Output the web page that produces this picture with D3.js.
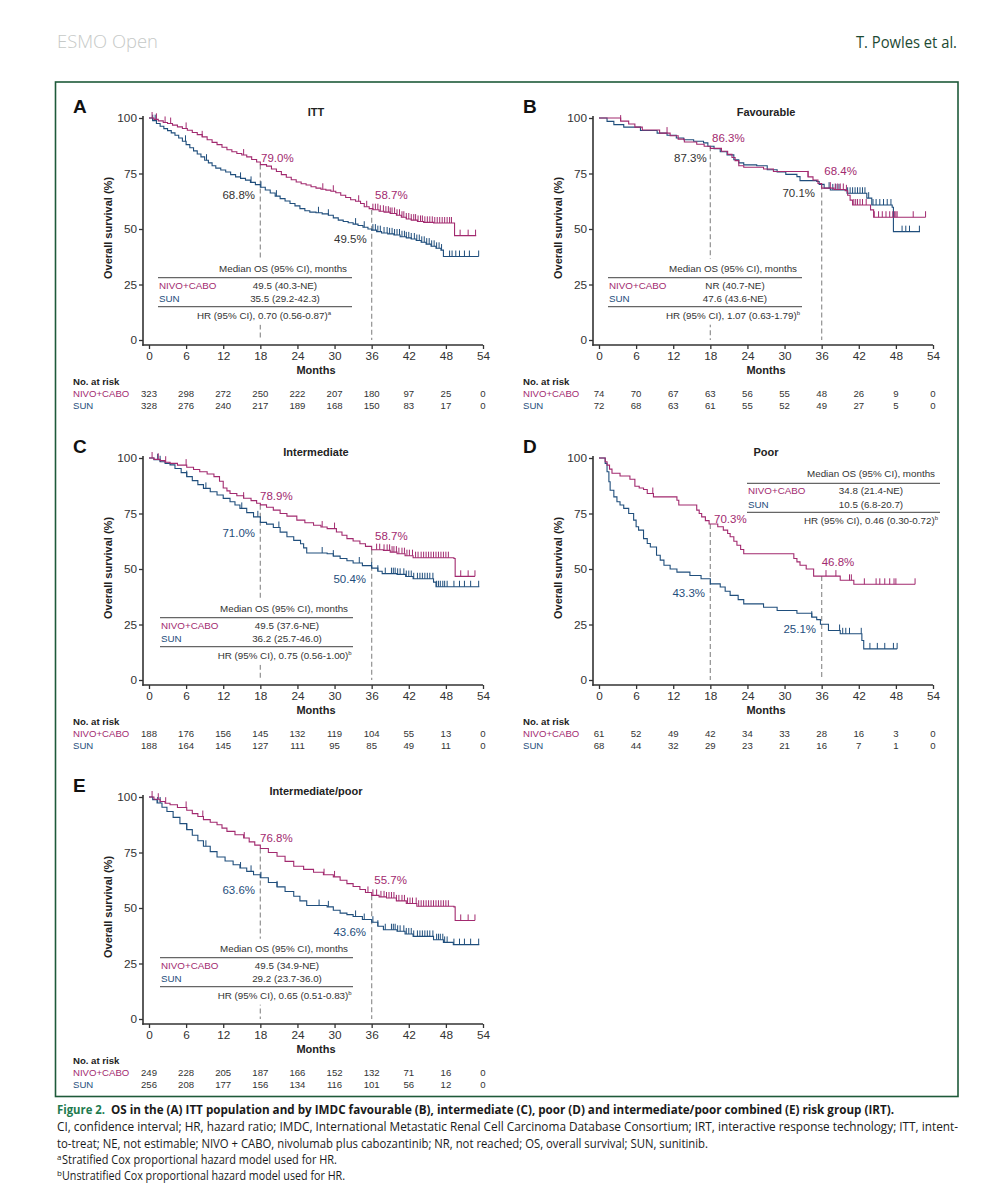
<!DOCTYPE html>
<html><head><meta charset="utf-8">
<script src="https://cdn.jsdelivr.net/npm/d3@7"></script>
<style>body{margin:0;background:#fff} svg text{font-family:"Liberation Sans",Arial,sans-serif}</style>
</head><body><svg id="c" width="1000" height="1200"></svg>
<script>
// ---------- DATA ----------
const months = [0,6,12,18,24,30,36,42,48,54];
const yTicks = [0,25,50,75,100];
const panelIds = ["A","B","C","D","E"];
const panelTitles = ["ITT","Favourable","Intermediate","Poor","Intermediate/poor"];
const armNames = ["NIVO+CABO","SUN"];

// Kaplan-Meier steps [month, OS %]
const nivoA = [[0,100],[0.8,99.4],[1.5,98.7],[2.3,98.0],[3.0,97.5],[3.8,96.8],[4.6,96.0],[5.4,95.3],[6.2,94.5],[7.0,93.5],[7.8,92.5],[8.6,91.5],[9.4,90.2],[10.2,89.0],[11.0,88.0],[11.8,86.8],[12.6,85.7],[13.4,84.8],[14.2,84.0],[15.0,83.3],[15.8,82.5],[16.6,81.3],[17.4,80.2],[18.0,79.0],[19.0,78.3],[19.8,77.0],[20.6,75.9],[21.4,74.5],[22.2,73.3],[23.0,72.2],[23.8,71.2],[24.6,70.4],[25.4,69.8],[26.2,69.0],[27.0,68.4],[27.8,67.9],[28.6,67.5],[29.4,67.0],[30.2,66.3],[31.0,65.2],[31.8,64.2],[32.6,63.2],[33.4,62.5],[34.2,61.5],[34.8,60.0],[35.6,59.2],[36.2,58.7],[37.2,58.0],[38.0,57.6],[39.0,57.0],[40.0,56.2],[40.8,55.3],[41.6,54.5],[42.4,54.0],[43.4,53.4],[44.4,53.0],[46.0,52.7],[49.4,47.0],[52.9,47.0]];
const sunA = [[0,100],[0.6,98.8],[1.2,97.5],[1.8,96.3],[2.4,95.2],[3.0,94.3],[3.6,93.3],[4.2,92.2],[4.8,91.0],[5.4,89.5],[6.0,88.0],[6.6,86.6],[7.2,85.2],[7.8,83.8],[8.4,82.5],[9.0,81.0],[9.6,79.8],[10.2,78.5],[10.8,77.4],[11.6,76.6],[12.4,75.7],[13.2,74.5],[14.0,73.5],[14.8,72.8],[15.6,72.0],[16.4,71.0],[17.2,70.0],[18.0,68.8],[18.8,67.6],[19.6,66.2],[20.4,64.8],[21.2,63.7],[22.0,62.6],[22.8,61.5],[23.6,60.4],[24.4,59.2],[25.2,58.2],[26.0,57.6],[27.0,57.3],[28.0,56.8],[29.0,56.2],[29.8,55.0],[30.6,54.0],[31.4,53.4],[32.2,52.8],[33.0,52.2],[33.8,51.6],[34.6,50.8],[35.4,50.0],[36.0,49.5],[36.8,48.8],[37.6,48.2],[38.6,47.8],[39.6,47.3],[40.6,46.5],[41.6,46.0],[42.4,45.5],[43.2,44.8],[44.0,44.0],[44.8,43.2],[45.6,42.2],[46.4,41.3],[47.2,40.5],[47.6,37.6],[53.3,37.6]];
const nivoB = [[0,100],[3.5,98.6],[4.8,97.3],[5.8,95.9],[7.0,94.6],[9.8,93.2],[11.5,92.0],[12.8,90.5],[13.8,89.2],[15.8,88.2],[17.0,87.3],[18.0,86.3],[19.8,85.0],[20.8,83.6],[21.5,82.2],[22.0,80.8],[22.6,78.5],[23.4,77.8],[26.6,77.0],[28.2,75.9],[33.0,75.9],[33.8,73.5],[34.6,72.1],[35.4,70.5],[36.0,68.4],[38.0,67.8],[39.8,67.2],[40.2,65.2],[40.6,63.0],[41.0,60.8],[43.9,58.6],[44.4,55.3],[52.8,55.3]];
const sunB = [[0,100],[1.3,98.5],[2.4,97.0],[4.0,95.9],[6.7,94.4],[9.4,93.2],[11.0,92.2],[12.5,91.0],[13.7,90.2],[15.3,89.5],[16.9,88.8],[17.6,87.3],[18.6,86.2],[19.6,84.8],[20.7,83.4],[21.8,81.2],[22.6,79.8],[23.4,78.9],[25.5,78.5],[27.2,76.7],[28.8,75.7],[30.2,74.6],[32.0,73.6],[32.5,71.8],[35.2,71.4],[35.6,70.1],[36.4,68.4],[37.4,67.6],[40.1,66.1],[43.3,63.9],[44.1,60.8],[47.4,59.8],[47.6,48.8],[51.9,48.8]];
const nivoC = [[0,100],[0.8,99.4],[1.8,98.8],[2.6,98.1],[3.4,97.6],[4.6,96.8],[6.1,95.8],[7.2,94.8],[8.2,93.8],[9.4,92.8],[10.5,91.6],[11.4,89.5],[12.0,86.5],[12.6,85.2],[13.1,84.0],[14.2,83.0],[15.3,81.9],[16.5,80.8],[17.4,79.6],[18.0,78.9],[19.0,77.8],[20.1,76.5],[21.2,75.0],[22.3,73.8],[23.9,72.0],[25.2,70.8],[26.6,69.7],[27.8,68.9],[28.8,68.2],[30.3,66.7],[31.2,65.2],[32.0,63.7],[33.0,62.6],[34.1,61.4],[35.0,60.2],[36.0,58.7],[37.9,58.4],[39.0,57.6],[40.1,56.9],[41.4,56.0],[42.7,55.1],[49.3,54.7],[49.5,46.7],[52.7,46.7]];
const sunC = [[0,100],[0.8,99.2],[1.8,98.3],[2.6,97.6],[3.4,96.9],[4.2,95.3],[5.2,93.4],[6.1,91.6],[7.0,89.8],[7.9,88.0],[8.8,86.3],[9.9,84.8],[11.0,83.3],[12.0,81.8],[13.1,80.3],[13.9,78.8],[14.7,77.3],[15.8,75.4],[16.9,73.5],[18.0,71.0],[19.0,70.2],[20.1,68.7],[21.2,66.6],[22.3,64.5],[23.4,62.9],[24.5,61.4],[25.0,59.5],[25.5,57.2],[28.8,56.9],[29.8,55.8],[30.9,54.7],[32.0,53.7],[33.0,52.7],[34.5,51.5],[36.0,50.4],[37.0,49.0],[37.7,47.9],[40.1,47.6],[41.5,46.6],[42.7,45.6],[46.0,44.1],[46.4,42.0],[53.4,42.0]];
const nivoD = [[0,100],[1.0,98.3],[1.3,96.8],[1.7,95.0],[2.1,93.1],[3.4,91.9],[5.0,90.4],[5.8,87.3],[6.5,86.5],[7.2,85.8],[7.8,84.0],[8.8,82.5],[12.6,81.0],[12.9,78.8],[15.8,76.5],[16.2,75.0],[16.6,73.5],[17.2,71.8],[17.8,70.3],[19.2,69.0],[20.1,67.5],[20.8,66.0],[21.2,64.5],[21.8,62.5],[22.3,60.7],[22.9,58.8],[23.4,56.9],[31.5,54.7],[32.0,53.2],[32.5,51.7],[33.5,50.0],[34.7,46.8],[39.0,44.9],[41.2,43.1],[51.1,43.1]];
const sunD = [[0,100],[1.0,97.6],[1.3,93.8],[1.6,89.3],[1.8,85.5],[2.4,82.5],[2.9,80.3],[3.4,78.8],[4.0,77.3],[4.8,75.0],[5.6,72.0],[6.0,69.0],[6.4,67.5],[7.2,63.7],[7.8,61.5],[8.3,59.9],[9.3,56.2],[9.9,54.0],[10.5,51.7],[11.5,50.0],[12.6,48.6],[14.7,47.1],[16.5,45.6],[18.0,43.3],[19.6,41.9],[20.4,40.0],[21.2,38.1],[22.5,36.2],[23.4,34.3],[26.6,32.8],[28.8,31.3],[32.0,30.1],[34.4,28.3],[35.2,27.2],[35.8,25.1],[37.1,22.3],[39.0,20.8],[42.5,17.8],[42.8,14.0],[48.2,14.0]];
const nivoE = [[0,100],[0.8,99.0],[1.8,98.0],[2.6,97.2],[3.4,96.5],[4.6,95.3],[6.1,94.0],[7.0,92.5],[7.9,91.2],[8.8,89.8],[9.9,88.6],[11.0,87.5],[11.8,86.0],[12.6,84.5],[13.9,83.0],[15.3,81.5],[16.2,79.8],[17.1,78.3],[18.0,76.8],[19.3,75.0],[20.7,73.3],[22.0,71.0],[23.4,68.8],[25.0,67.4],[26.6,66.1],[28.2,65.0],[29.8,64.0],[30.9,62.5],[32.0,61.0],[33.0,59.7],[34.1,58.3],[35.0,57.0],[36.0,55.7],[37.2,55.0],[38.4,54.5],[40.0,53.2],[41.6,52.0],[43.3,50.8],[49.3,50.5],[49.5,44.4],[52.7,44.4]];
const sunE = [[0,100],[0.6,98.8],[1.3,97.3],[2.1,95.4],[2.9,93.5],[3.9,90.8],[5.0,88.0],[6.1,85.3],[7.0,82.8],[7.9,80.3],[8.8,77.8],[9.9,75.4],[11.0,73.0],[12.3,71.2],[13.6,69.5],[14.7,68.0],[15.8,66.5],[16.9,65.0],[18.0,63.6],[19.3,61.5],[20.7,59.5],[22.0,57.4],[23.4,55.3],[24.4,53.2],[25.5,51.1],[28.8,50.5],[29.8,49.0],[30.9,47.7],[32.0,47.0],[33.0,46.2],[34.5,44.8],[36.0,43.6],[37.0,41.8],[37.9,40.2],[40.1,39.5],[41.4,38.3],[42.7,37.2],[46.0,35.7],[47.6,34.5],[49.2,33.5],[53.4,33.5]];

// Censoring times (months)
const nivoCensA = [0.5,1.2,2.6,3.5,6,8.6,15.3,28.1,29.8,33.9,35.2,36.2,36.6,37.0,37.4,37.9,38.3,38.7,39.0,39.3,39.7,40.1,40.5,40.9,41.2,41.6,42.0,42.4,42.8,43.1,43.5,43.9,44.2,44.6,45.0,45.4,45.8,46.2,46.6,47.0,47.4,47.8,48.2,48.6,48.9,50.3,51.6,52.8];
const sunCensA = [0.6,1.0,5.9,9.3,14.8,16.5,18.1,20.6,27.4,29.0,33.4,34.8,36.2,36.6,37.0,37.4,38.0,38.5,38.9,39.3,39.7,40.1,40.5,40.9,41.3,41.6,42.0,42.4,42.9,43.3,43.7,44.1,44.5,44.9,45.3,45.7,46.1,46.5,46.9,47.3,48.6,49.0,49.6,50.2,51.0,51.8,53.3];
const nivoCensB = [3.5,11,33.8,37.4,38.2,38.6,39.0,39.5,40.0,41.2,41.5,41.8,42.2,42.6,43.2,44.5,45.2,45.8,46.4,47.0,47.5,47.8,48.0,48.2,50.8,52.8];
const sunCensB = [37.2,37.8,38.3,38.8,40.2,40.6,41.0,41.4,41.8,42.2,42.6,43.0,43.6,44.3,44.8,45.4,46.0,46.6,47.2,49.0,49.6,50.2,51.8];
const nivoCensC = [0.5,1.5,2.7,6,15.3,28,30,36.8,37.3,38,38.5,38.9,39.3,39.6,40.0,40.4,40.9,41.3,41.7,42.1,42.6,43.1,43.5,44,44.4,44.8,45.2,45.6,46.0,46.4,46.8,47.2,47.6,48.0,48.4,50.4,51.6,52.7];
const sunCensC = [1.4,1.8,6.1,9.2,15,17.6,21,28,29.8,34,36,37,38.2,39.2,39.5,39.8,40.2,40.6,41.2,41.6,42,42.4,42.8,43.4,43.8,44.2,44.6,45.0,45.4,45.9,46.5,46.8,47.1,47.5,47.8,48.2,49.3,50.2,51,52,53.3];
const nivoCensD = [8.7,36.7,38.3,40.5,40.8,42.9,44.8,45.4,46.2,47.0,47.7,48.0,51.1];
const sunCensD = [34.4,38.9,39.4,39.9,40.5,42.4,43.8,45.0,46.2,47.6,48.2];
const nivoCensE = [0.5,1.5,2.7,6,8.7,15.4,28.3,30,35.4,36.2,36.8,37.5,38.0,38.4,38.8,39.2,39.6,40.0,40.4,40.9,41.3,41.8,42.2,42.6,43.2,43.6,44.0,44.4,44.8,45.2,45.6,46.0,46.4,46.8,47.2,47.6,48.0,48.4,50.4,51.6,52.7];
const sunCensE = [1.4,1.8,6.1,9.2,14.8,16.5,18.1,20.7,27.5,29,33.4,34.8,36.2,37,38.2,39.2,39.5,39.8,40.2,40.6,41.2,41.6,42.0,42.4,42.8,43.4,43.8,44.2,44.6,45.0,45.4,45.9,46.5,46.8,47.1,47.5,47.8,48.2,49.3,50.2,51,52,53.3];

// Numbers at risk
const riskNivoA = [323,298,272,250,222,207,180,97,25,0];
const riskSunA  = [328,276,240,217,189,168,150,83,17,0];
const riskNivoB = [74,70,67,63,56,55,48,26,9,0];
const riskSunB  = [72,68,63,61,55,52,49,27,5,0];
const riskNivoC = [188,176,156,145,132,119,104,55,13,0];
const riskSunC  = [188,164,145,127,111,95,85,49,11,0];
const riskNivoD = [61,52,49,42,34,33,28,16,3,0];
const riskSunD  = [68,44,32,29,23,21,16,7,1,0];
const riskNivoE = [249,228,205,187,166,152,132,71,16,0];
const riskSunE  = [256,208,177,156,134,116,101,56,12,0];

// Median OS, HR
const medianNivo = ["49.5 (40.3-NE)","NR (40.7-NE)","49.5 (37.6-NE)","34.8 (21.4-NE)","49.5 (34.9-NE)"];
const medianSun  = ["35.5 (29.2-42.3)","47.6 (43.6-NE)","36.2 (25.7-46.0)","10.5 (6.8-20.7)","29.2 (23.7-36.0)"];
const hrText = ["0.70 (0.56-0.87)","1.07 (0.63-1.79)","0.75 (0.56-1.00)","0.46 (0.30-0.72)","0.65 (0.51-0.83)"];
const hrNote = ["a","b","b","b","b"];

// Landmark OS at 18 and 36 months
const os18Nivo = [79.0,86.3,78.9,70.3,76.8];
const os18Sun  = [68.8,87.3,71.0,43.3,63.6];
const os36Nivo = [58.7,68.4,58.7,46.8,55.7];
const os36Sun  = [49.5,70.1,50.4,25.1,43.6];

// ---------- STYLE / LAYOUT ----------
const MAG = "#a22a6f", NAVY = "#1f4e7c", TXT = "#333";
const layout = [
 {ox:0,  oy:0,   t:{x1:158,x2:352,valX:285,top:271.7,hrEnd:331,white:true}, lab:[[261,162],[255,199],[375,199],[366.7,243]], sunCol:TXT},
 {ox:450,oy:0,   t:{x1:158,x2:352,valX:285,top:271.7,hrEnd:350,white:true}, lab:[[262,141.7],[256.7,162.3],[374.3,175],[365,197.3]], sunCol:TXT},
 {ox:0,  oy:340, t:{x1:160,x2:353,valX:287,top:271.7,hrEnd:351.7,white:true}, lab:[[260,160],[255,197.3],[375,200],[366,243.3]], sunCol:NAVY},
 {ox:450,oy:340, t:{x1:297,x2:490,valX:421,top:137.3,hrEnd:488,white:false}, lab:[[264,183.3],[255,256.7],[371.7,226.3],[366,293]], sunCol:NAVY},
 {ox:0,  oy:679, t:{x1:160,x2:353,valX:287,top:272.7,hrEnd:351.7,white:true}, lab:[[260,162.7],[255,215],[374.3,205],[366,256.7]], sunCol:NAVY}
];
const nivoSeries = [nivoA,nivoB,nivoC,nivoD,nivoE];
const sunSeries  = [sunA,sunB,sunC,sunD,sunE];
const nivoCens = [nivoCensA,nivoCensB,nivoCensC,nivoCensD,nivoCensE];
const sunCens  = [sunCensA,sunCensB,sunCensC,sunCensD,sunCensE];
const riskNivo = [riskNivoA,riskNivoB,riskNivoC,riskNivoD,riskNivoE];
const riskSun  = [riskSunA,riskSunB,riskSunC,riskSunD,riskSunE];

const svg = d3.select("#c");
svg.append("rect").attr("width",1000).attr("height",1200).attr("fill","#fff");

// header
svg.append("text").attr("x",57).attr("y",48).attr("textLength",101).attr("lengthAdjust","spacingAndGlyphs")
  .style("font-family","'Open Sans',sans-serif").style("font-size","19px").style("font-weight",300).attr("fill","#c6c9c7").text("ESMO Open");
svg.append("text").attr("x",856).attr("y",48).attr("textLength",101).attr("lengthAdjust","spacingAndGlyphs")
  .style("font-family","'Open Sans',sans-serif").style("font-size","16px").attr("fill","#1d4a33").text("T. Powles et al.");
// frame
svg.append("rect").attr("x",55.5).attr("y",82).attr("width",902.5).attr("height",1014.5)
  .attr("fill","none").attr("stroke","#1e5a3a").attr("stroke-width",1.6);

const x = d3.scaleLinear().domain([0,54]).range([149,483]);
const y = d3.scaleLinear().domain([0,100]).range([340,118]);
const line = d3.line().x(d=>x(d[0])).y(d=>y(d[1])).curve(d3.curveStepAfter);
const survAt = (data,t)=>{let v=data[0][1];for(const d of data){if(d[0]<=t)v=d[1];else break;}return v;};

panelIds.forEach((id,i)=>{
  const L = layout[i];
  const g = svg.append("g").attr("transform",`translate(${L.ox},${L.oy})`);
  // dashed landmark lines
  [[18,Math.max(os18Nivo[i],os18Sun[i])],[36,Math.max(os36Nivo[i],os36Sun[i])]].forEach(([m,v])=>{
    g.append("line").attr("x1",x(m)).attr("x2",x(m)).attr("y1",y(v)).attr("y2",y(0))
      .attr("stroke","#999").attr("stroke-width",1.3).attr("stroke-dasharray","5,3");
  });
  // curves
  [[sunSeries[i],sunCens[i],NAVY],[nivoSeries[i],nivoCens[i],MAG]].forEach(([data,cens,col])=>{
    g.append("path").datum(data).attr("d",line).attr("fill","none").attr("stroke",col).attr("stroke-width",1.1);
    g.selectAll(null).data(cens).enter().append("line")
      .attr("x1",t=>x(t)).attr("x2",t=>x(t))
      .attr("y1",t=>y(survAt(data,t))).attr("y2",t=>y(survAt(data,t))-6)
      .attr("stroke",col).attr("stroke-width",1);
  });
  // table
  const T = L.t;
  if (T.white) g.append("rect").attr("x",T.x1-3).attr("y",T.top-13).attr("width",T.x2-T.x1+6).attr("height",66).attr("fill","#fff");
  const fs = "9.8px";
  g.append("text").attr("x",T.x2-5).attr("y",T.top).attr("text-anchor","end").style("font-size",fs).attr("fill",TXT).text("Median OS (95% CI), months");
  g.append("line").attr("x1",T.x1).attr("x2",T.x2).attr("y1",T.top+6).attr("y2",T.top+6).attr("stroke","#666").attr("stroke-width",1.2);
  g.append("text").attr("x",T.x1+1).attr("y",T.top+17).style("font-size",fs).attr("fill",MAG).text(armNames[0]);
  g.append("text").attr("x",T.valX).attr("y",T.top+17).attr("text-anchor","middle").style("font-size",fs).attr("fill",TXT).text(medianNivo[i]);
  g.append("text").attr("x",T.x1+1).attr("y",T.top+30.5).style("font-size",fs).attr("fill",NAVY).text(armNames[1]);
  g.append("text").attr("x",T.valX).attr("y",T.top+30.5).attr("text-anchor","middle").style("font-size",fs).attr("fill",TXT).text(medianSun[i]);
  g.append("line").attr("x1",T.x1).attr("x2",T.x2).attr("y1",T.top+35).attr("y2",T.top+35).attr("stroke","#666").attr("stroke-width",1.2);
  const hr = g.append("text").attr("x",T.hrEnd).attr("y",T.top+47).attr("text-anchor","end").style("font-size",fs).attr("fill",TXT);
  hr.append("tspan").text("HR (95% CI), "+hrText[i]);
  hr.append("tspan").attr("dy",-4).style("font-size","6px").text(hrNote[i]);
  // landmark labels
  const labs = [[os18Nivo[i],MAG,"start"],[os18Sun[i],L.sunCol,"end"],[os36Nivo[i],MAG,"start"],[os36Sun[i],L.sunCol,"end"]];
  labs.forEach(([v,col,anc],k)=>{
    g.append("text").attr("x",L.lab[k][0]).attr("y",L.lab[k][1]).attr("text-anchor",anc)
      .style("font-size","11.5px").attr("fill",col).text(v.toFixed(1)+"%");
  });
  // axes
  const ya = g.append("g").attr("transform","translate(143,0)")
    .call(d3.axisLeft(y).tickValues(yTicks).tickSizeInner(4).tickSizeOuter(0).tickPadding(2));
  ya.select(".domain").remove();
  const xa = g.append("g").attr("transform","translate(0,345)")
    .call(d3.axisBottom(x).tickValues(months).tickSizeInner(4).tickSizeOuter(0).tickPadding(3));
  xa.select(".domain").remove();
  [ya,xa].forEach(a=>{
    a.selectAll("text").style("font-size","11.8px").style("font-family","'Liberation Sans',Arial,sans-serif").attr("fill",TXT);
    a.selectAll(".tick line").attr("stroke",TXT).attr("stroke-width",1.3);
  });
  g.append("line").attr("x1",143).attr("x2",143).attr("y1",116).attr("y2",345.8).attr("stroke",TXT).attr("stroke-width",1.6);
  g.append("line").attr("x1",142.2).attr("x2",x(54)).attr("y1",345).attr("y2",345).attr("stroke",TXT).attr("stroke-width",1.6);
  g.append("text").attr("x",(x(0)+x(54))/2).attr("y",374).attr("text-anchor","middle")
    .style("font-size","11px").style("font-weight","bold").attr("fill","#222").text("Months");
  g.append("text").attr("transform","translate(112,228) rotate(-90)").attr("text-anchor","middle")
    .style("font-size","11px").style("font-weight","bold").attr("fill","#222").text("Overall survival (%)");
  // panel letter & title
  g.append("text").attr("x",73).attr("y",112.5).style("font-size","19px").style("font-weight","bold").attr("fill","#111").text(id);
  g.append("text").attr("x",(x(0)+x(54))/2).attr("y",115.5).attr("text-anchor","middle")
    .style("font-size","11px").style("font-weight","bold").attr("fill","#222").text(panelTitles[i]);
  // risk table
  g.append("text").attr("x",73).attr("y",384.7).style("font-size","9.6px").style("font-weight","bold").attr("fill","#222").text("No. at risk");
  g.append("text").attr("x",73).attr("y",396.7).style("font-size","9.6px").attr("fill",MAG).text(armNames[0]);
  g.append("text").attr("x",73).attr("y",408.7).style("font-size","9.6px").attr("fill",NAVY).text(armNames[1]);
  [[riskNivo[i],396.7],[riskSun[i],408.7]].forEach(([arr,yy])=>{
    g.selectAll(null).data(arr).enter().append("text")
      .attr("x",(d,k)=>x(months[k])).attr("y",yy).attr("text-anchor","middle")
      .style("font-size","9.6px").attr("fill",TXT).text(d=>d);
  });
});

// caption
const cap = svg.append("g").style("font-family","'Open Sans',sans-serif");
const addT=(xx,yy,txt,len,opt={})=>{
  const t=cap.append("text").attr("x",xx).attr("y",yy).text(txt)
    .style("font-family","'Open Sans',sans-serif").style("font-size",(opt.fs||12)+"px")
    .style("font-weight",opt.bold?"bold":"normal").attr("fill",opt.col||"#1a1a1a");
  if(len) t.attr("textLength",len).attr("lengthAdjust","spacingAndGlyphs");
};
addT(57,1114,"Figure 2.",48,{bold:true,col:"#1e7b4f"});
addT(111,1114,"OS in the (A) ITT population and by IMDC favourable (B), intermediate (C), poor (D) and intermediate/poor combined (E) risk group (IRT).",783,{bold:true});
addT(57,1131,"CI, confidence interval; HR, hazard ratio; IMDC, International Metastatic Renal Cell Carcinoma Database Consortium; IRT, interactive response technology; ITT, intent-",901);
addT(57,1148,"to-treat; NE, not estimable; NIVO + CABO, nivolumab plus cabozantinib; NR, not reached; OS, overall survival; SUN, sunitinib.",651);
addT(57,1160,"a",0,{fs:8});
addT(62,1164,"Stratified Cox proportional hazard model used for HR.",275);
addT(57,1176,"b",0,{fs:8});
addT(62,1180,"Unstratified Cox proportional hazard model used for HR.",283);
</script></body></html>
